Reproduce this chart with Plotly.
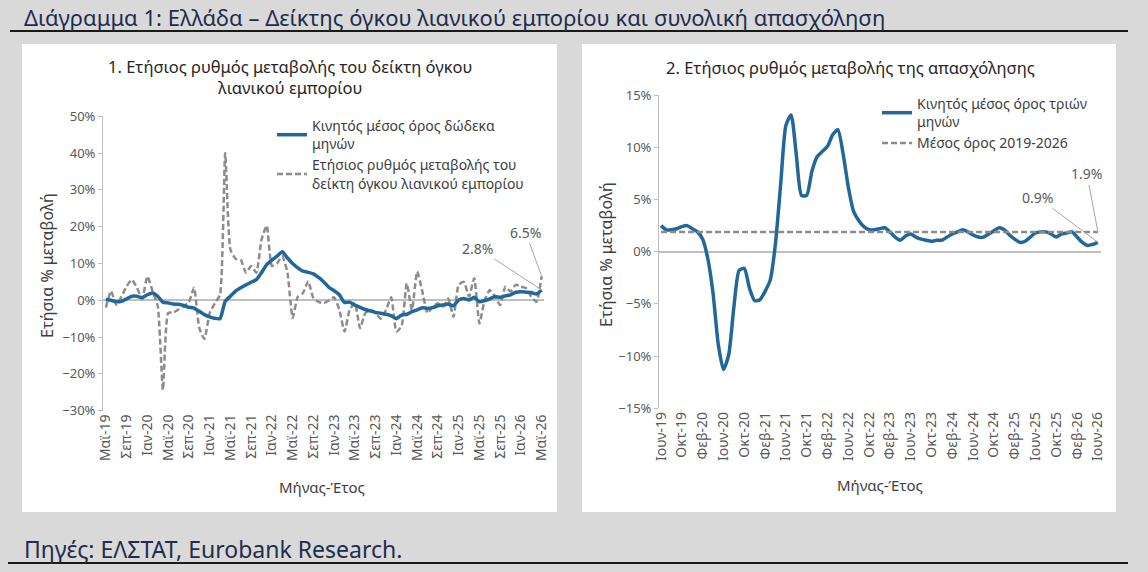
import plotly.graph_objects as go

# month abbreviations used on the axes
greek_months = ["Ιαν", "Φεβ", "Μαρ", "Απρ", "Μαϊ", "Ιουν", "Ιουλ", "Αυγ", "Σεπ", "Οκτ", "Νοε", "Δεκ"]

# chart 1: retail trade volume, May-19 .. May-26
retail_yoy = [
    -2.0, 2.5, -1.2, 1.0, 3.8, 5.6, 3.4, 0.4, 6.5, 2.5,
    -1.5, -24.4, -3.5, -3.3, -2.5, -1.6, -0.5, 3.4, -7.5, -10.5,
    -3.5, -0.8, 1.5, 40.0, 13.8, 11.3, 11.0, 7.5, 9.3, 7.5,
    16.5, 20.3, 9.3, 10.0, 12.0, 7.5, -4.8, 1.0, 2.0, 5.2,
    0.6, -0.4, -0.8, 0.0, 0.8, -2.6, -8.5, -2.6, -0.8, -7.6,
    -3.5, -2.6, -3.5, -5.0, -2.6, 0.8, -8.5, -7.0, 4.6, -2.6,
    7.8, 2.4, -3.5, -1.7, -0.8, -1.7, 0.5, -4.5, 4.2, 5.0,
    1.0, 6.0, -6.3, 0.0, 2.8, 1.0, -1.3, 3.7, 2.4, 4.2,
    3.7, 3.3, 1.0, -0.4, 6.5,
]
retail_ma12 = [
    0.2, 0.0, -0.4, -0.3, 0.4, 1.1, 1.1, 0.7, 1.5, 2.0,
    1.1, -0.5, -0.7, -1.0, -1.1, -1.4, -1.9, -2.1, -3.0, -3.9,
    -4.5, -4.9, -5.0, -0.3, 1.1, 2.5, 3.4, 4.2, 4.9, 5.6,
    7.5, 9.7, 10.9, 12.0, 13.2, 11.5, 10.0, 8.8, 7.9, 7.6,
    7.2, 6.2, 5.0, 3.5, 2.6, 1.5, -0.6, -0.5, -1.3, -1.9,
    -2.5, -2.9, -3.3, -3.5, -3.8, -4.2, -5.0, -4.0, -3.8, -3.1,
    -2.6, -2.0, -2.2, -2.0, -1.5, -1.3, -1.0, -1.5, 0.1, 0.5,
    0.1, 0.8, -0.4, -0.1, 0.4, 1.0, 0.8, 1.2, 1.5, 2.2,
    2.3, 2.2, 2.1, 1.7, 2.8,
]
left_ticks = ["Μαϊ-19", "Σεπ-19", "Ιαν-20", "Μαϊ-20", "Σεπ-20", "Ιαν-21", "Μαϊ-21", "Σεπ-21",
              "Ιαν-22", "Μαϊ-22", "Σεπ-22", "Ιαν-23", "Μαϊ-23", "Σεπ-23", "Ιαν-24", "Μαϊ-24",
              "Σεπ-24", "Ιαν-25", "Μαϊ-25", "Σεπ-25", "Ιαν-26", "Μαϊ-26"]

# chart 2: employment, Jun-19 .. Jun-26
employment_ma3 = [
    2.5, 2.1, 2.1, 2.2, 2.4, 2.5, 2.2, 1.9, 1.2, -0.7,
    -4.0, -8.9, -11.3, -9.9, -5.3, -1.8, -1.6, -3.5, -4.7, -4.6,
    -3.8, -2.7, 0.8, 6.5, 12.1, 13.1, 9.3, 5.4, 5.4, 7.7,
    9.1, 9.6, 10.1, 11.2, 11.7, 9.4, 6.2, 3.9, 3.0, 2.4,
    2.1, 2.1, 2.2, 2.3, 1.9, 1.4, 1.1, 1.5, 1.7, 1.4,
    1.2, 1.1, 1.0, 1.1, 1.1, 1.4, 1.7, 1.9, 2.1, 1.9,
    1.6, 1.4, 1.4, 1.7, 2.0, 2.3, 2.1, 1.6, 1.2, 0.9,
    1.0, 1.4, 1.8, 1.9, 1.9, 1.7, 1.4, 1.7, 1.8, 1.9,
    1.4, 0.9, 0.6, 0.7, 0.9,
]
employment_avg = 1.9
right_ticks = ["Ιουν-19", "Οκτ-19", "Φεβ-20", "Ιουν-20", "Οκτ-20", "Φεβ-21", "Ιουν-21", "Οκτ-21",
               "Φεβ-22", "Ιουν-22", "Οκτ-22", "Φεβ-23", "Ιουν-23", "Οκτ-23", "Φεβ-24", "Ιουν-24",
               "Οκτ-24", "Φεβ-25", "Ιουν-25", "Οκτ-25", "Φεβ-26", "Ιουν-26"]


def month_labels(start_month, start_year, n):
    out = []
    m, y = start_month, start_year
    for _ in range(n):
        out.append(f"{greek_months[m - 1]}-{y % 100:02d}")
        m += 1
        if m > 12:
            m, y = 1, y + 1
    return out


left_months = month_labels(5, 2019, len(retail_yoy))
right_months = month_labels(6, 2019, len(employment_ma3))

W, H = 1148, 572
FONT = "Noto Sans"
BLUE = "#22679a"
GREY = "#8c8c8c"
TXT = "#595959"


def px(x):
    return x / W


def py(y):
    return 1 - y / H


fig = go.Figure()

fig.add_trace(go.Scatter(x=left_months, y=retail_yoy, mode="lines",
                         name="Ετήσιος ρυθμός μεταβολής του<br>δείκτη όγκου λιανικού εμπορίου",
                         line=dict(color=GREY, width=2.5, dash="6px,3px", shape="spline", smoothing=0.5),
                         xaxis="x", yaxis="y", legend="legend", legendrank=2))
fig.add_trace(go.Scatter(x=left_months, y=retail_ma12, mode="lines", name="Κινητός μέσος όρος δώδεκα<br>μηνών",
                         line=dict(color=BLUE, width=3.5, shape="spline", smoothing=0.5),
                         xaxis="x", yaxis="y", legend="legend", legendrank=1))

fig.add_trace(go.Scatter(x=right_months, y=employment_ma3, mode="lines", name="Κινητός μέσος όρος τριών<br>μηνών",
                         line=dict(color=BLUE, width=3.5, shape="spline", smoothing=0.6),
                         xaxis="x2", yaxis="y2", legend="legend2"))
fig.add_trace(go.Scatter(x=right_months, y=[employment_avg] * len(right_months), mode="lines",
                         name="Μέσος όρος 2019-2026",
                         line=dict(color=GREY, width=2.5, dash="6px,3px"),
                         xaxis="x2", yaxis="y2", legend="legend2"))

xtick_font = dict(family=FONT, size=14, color=TXT)
ytick_font = dict(family=FONT, size=13, color=TXT)

fig.update_layout(
    width=W, height=H,
    margin=dict(l=0, r=0, t=0, b=0, pad=0, autoexpand=False),
    paper_bgcolor="#d9d9d9",
    plot_bgcolor="white",
    font=dict(family=FONT, color=TXT),
    xaxis=dict(domain=[px(103), px(544)], anchor="y", type="category", categoryarray=left_months,
               range=[-0.55, 84.45], tickmode="array", tickvals=left_ticks, ticktext=left_ticks,
               tickangle=-90, showline=False, ticks="", zeroline=False, showgrid=False,
               automargin=False, tickfont=xtick_font),
    yaxis=dict(domain=[py(410.7), py(116.3)], anchor="x", range=[-30, 50], dtick=10, ticksuffix="%",
               showline=True, linecolor="#bfbfbf", ticks="outside", ticklen=4, tickcolor="#bfbfbf",
               zeroline=True, zerolinecolor="#bfbfbf", zerolinewidth=1.5, showgrid=False,
               automargin=False, tickfont=ytick_font),
    xaxis2=dict(domain=[px(659), px(1100.5)], anchor="y2", type="category", categoryarray=right_months,
                range=[-0.4, 84.5], tickmode="array", tickvals=right_ticks, ticktext=right_ticks,
                tickangle=-90, showline=False, ticks="", zeroline=False, showgrid=False,
                automargin=False, tickfont=xtick_font),
    yaxis2=dict(domain=[py(408.2), py(95.2)], anchor="x2", range=[-15, 15], dtick=5, ticksuffix="%",
                showline=True, linecolor="#bfbfbf", ticks="outside", ticklen=4, tickcolor="#bfbfbf",
                zeroline=True, zerolinecolor="#bfbfbf", zerolinewidth=1.5, showgrid=False,
                automargin=False, tickfont=ytick_font),
    legend=dict(x=px(272), y=py(110), xanchor="left", yanchor="top", bgcolor="rgba(0,0,0,0)",
                font=dict(family=FONT, size=14, color="#404040"), tracegroupgap=2),
    legend2=dict(x=px(877), y=py(88), xanchor="left", yanchor="top", bgcolor="rgba(0,0,0,0)",
                 font=dict(family=FONT, size=14, color="#404040"), tracegroupgap=2),
    showlegend=True,
)

# background panels and rules
fig.add_shape(type="rect", xref="paper", yref="paper", x0=px(22), x1=px(557), y0=py(512), y1=py(44),
              fillcolor="white", line=dict(width=0), layer="below")
fig.add_shape(type="rect", xref="paper", yref="paper", x0=px(582), x1=px(1116), y0=py(512), y1=py(44),
              fillcolor="white", line=dict(width=0), layer="below")
fig.add_shape(type="line", xref="paper", yref="paper", x0=px(10), x1=px(1128), y0=py(31), y1=py(31),
              line=dict(color="#1a1a1a", width=2))
fig.add_shape(type="line", xref="paper", yref="paper", x0=px(8), x1=px(1128), y0=py(563), y1=py(563),
              line=dict(color="#1a1a1a", width=2))

texts = [
    dict(x=px(22), y=py(17), text="Διάγραμμα 1: Ελλάδα – Δείκτης όγκου λιανικού εμπορίου και συνολική απασχόληση",
         xanchor="left", font=dict(size=22, color="#1f2d4d")),
    dict(x=px(22), y=py(549), text="Πηγές: ΕΛΣΤΑΤ, Eurobank Research.",
         xanchor="left", font=dict(size=23, color="#1f2d4d")),
    dict(x=px(290), y=py(77), text="1. Ετήσιος ρυθμός μεταβολής του δείκτη όγκου<br>λιανικού εμπορίου",
         xanchor="center", font=dict(size=16.5, color="#262626")),
    dict(x=px(850), y=py(68), text="2. Ετήσιος ρυθμός μεταβολής της απασχόλησης",
         xanchor="center", font=dict(size=16.5, color="#262626")),
    dict(x=px(47), y=py(265), text="Ετήσια % μεταβολή", textangle=-90, xanchor="center",
         font=dict(size=16, color="#404040")),
    dict(x=px(606), y=py(255), text="Ετήσια % μεταβολή", textangle=-90, xanchor="center",
         font=dict(size=16, color="#404040")),
    dict(x=px(322), y=py(487), text="Μήνας-Έτος", xanchor="center", font=dict(size=15, color="#404040")),
    dict(x=px(880), y=py(485), text="Μήνας-Έτος", xanchor="center", font=dict(size=15, color="#404040")),
]
for t in texts:
    fig.add_annotation(xref="paper", yref="paper", showarrow=False, yanchor="middle",
                       **{k: v for k, v in t.items() if k != "font"},
                       font=dict(family=FONT, **t["font"]))

# value call-outs on the last points
callouts = [
    ("x", "y", left_months[-1], retail_ma12[-1], -64, -42),
    ("x", "y", left_months[-1], retail_yoy[-1], -16, -44),
    ("x2", "y2", right_months[-1], employment_ma3[-1], -60, -45),
    ("x2", "y2", right_months[-1], employment_avg, -11, -58),
]
for xr, yr, xv, yv, ax, ay in callouts:
    fig.add_annotation(xref=xr, yref=yr, x=xv, y=yv, text=f"{yv:.1f}%", showarrow=True, arrowhead=0,
                       arrowwidth=1, arrowcolor="#a6a6a6", ax=ax, ay=ay,
                       font=dict(family=FONT, size=14, color=TXT))

# page body margin would otherwise shift the figure by 8px
fig.write_html("out.html", config={"displayModeBar": False},
               post_script="document.body.style.margin='0px';")
